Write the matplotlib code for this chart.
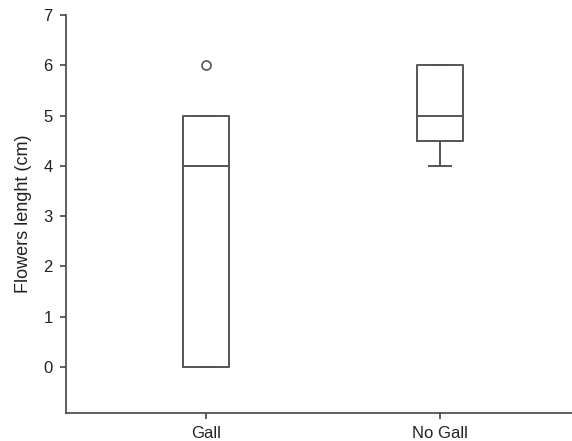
import matplotlib
matplotlib.use("Agg")
import matplotlib.pyplot as plt

categories = ["Gall", "No Gall"]
q1 = [0.0, 4.5]
median = [4.0, 5.0]
q3 = [5.0, 6.0]
whis_low = [0.0, 4.0]
whis_high = [5.0, 6.0]
outliers = [[6.0], []]
yticks = [0, 1, 2, 3, 4, 5, 6, 7]

plt.rcParams['font.family'] = ['Liberation Sans', 'DejaVu Sans']
fig = plt.figure(figsize=(5.72, 4.41), dpi=100)
ax = fig.add_axes([0.1154, 0.0635, 0.8846, 0.9025])

stats = []
for i, c in enumerate(categories):
    stats.append(dict(label=c, q1=q1[i], med=median[i], q3=q3[i],
                      whislo=whis_low[i], whishi=whis_high[i], fliers=outliers[i]))

lc = '#555555'
ax.bxp(stats, positions=[1, 2], widths=0.197, capwidths=0.094,
       boxprops=dict(color=lc, linewidth=1.4),
       medianprops=dict(color=lc, linewidth=1.4),
       whiskerprops=dict(color=lc, linewidth=1.4),
       capprops=dict(color=lc, linewidth=1.4),
       flierprops=dict(marker='o', markerfacecolor='white', markeredgecolor=lc,
                       markersize=6.5, markeredgewidth=1.2))

ax.set_xlim(0.40, 2.564)
ax.set_ylim(-0.915, 7)
ax.set_yticks(yticks)
ax.set_xticks([1, 2])
ax.set_xticklabels(categories)
for s in ['top', 'right']:
    ax.spines[s].set_visible(False)
for s in ['left', 'bottom']:
    ax.spines[s].set_color('#444444')
    ax.spines[s].set_linewidth(1.2)
ax.tick_params(direction='out', length=4.5, width=1.2, color='#444444',
               labelsize=12, labelcolor='#222222', pad=5)
ax.set_ylabel('Flowers lenght (cm)', fontsize=13, color='#222222', labelpad=8)
fig.savefig('out.png', dpi=100, facecolor='white')
